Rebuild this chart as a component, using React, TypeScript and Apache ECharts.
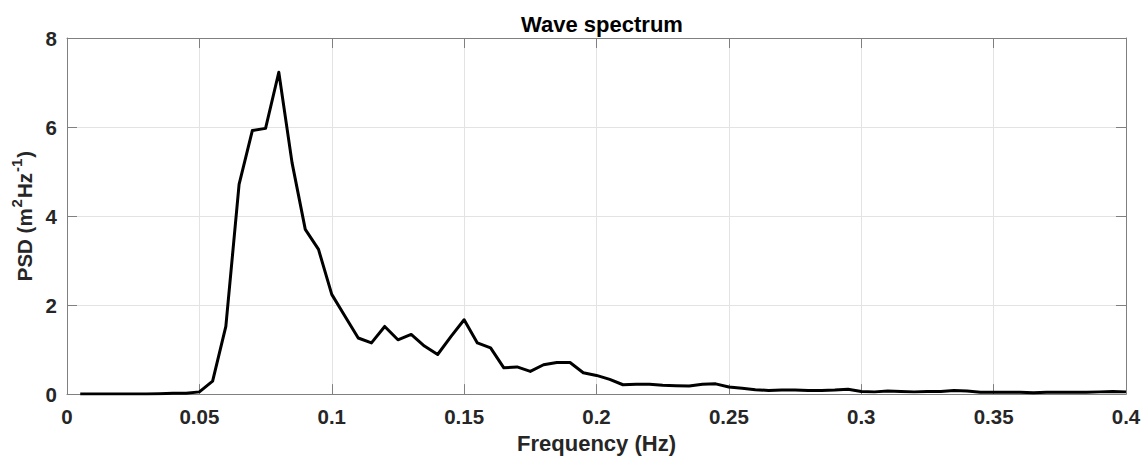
import React, { useEffect, useRef } from "react";
import * as echarts from "echarts";

const frequency = [
  0.005, 0.01, 0.015, 0.02, 0.025, 0.03, 0.035, 0.04, 0.045, 0.05,
  0.055, 0.06, 0.065, 0.07, 0.075, 0.08, 0.085, 0.09, 0.095, 0.1,
  0.105, 0.11, 0.115, 0.12, 0.125, 0.13, 0.135, 0.14, 0.145, 0.15,
  0.155, 0.16, 0.165, 0.17, 0.175, 0.18, 0.185, 0.19, 0.195, 0.2,
  0.205, 0.21, 0.215, 0.22, 0.225, 0.23, 0.235, 0.24, 0.245, 0.25,
  0.255, 0.26, 0.265, 0.27, 0.275, 0.28, 0.285, 0.29, 0.295, 0.3,
  0.305, 0.31, 0.315, 0.32, 0.325, 0.33, 0.335, 0.34, 0.345, 0.35,
  0.355, 0.36, 0.365, 0.37, 0.375, 0.38, 0.385, 0.39, 0.395, 0.4,
];

const psd = [
  0.0, 0.0, 0.0, 0.0, 0.0, 0.0, 0.01, 0.02, 0.02, 0.05,
  0.29, 1.52, 4.71, 5.92, 5.97, 7.23, 5.2, 3.7, 3.25, 2.24,
  1.75, 1.26, 1.15, 1.52, 1.22, 1.34, 1.08, 0.89, 1.29, 1.67,
  1.15, 1.04, 0.59, 0.61, 0.51, 0.66, 0.71, 0.71, 0.48, 0.42,
  0.33, 0.21, 0.22, 0.22, 0.2, 0.19, 0.18, 0.22, 0.23, 0.16,
  0.13, 0.1, 0.08, 0.09, 0.09, 0.08, 0.08, 0.09, 0.11, 0.06,
  0.05, 0.07, 0.06, 0.05, 0.06, 0.06, 0.08, 0.07, 0.04, 0.04,
  0.04, 0.04, 0.03, 0.04, 0.04, 0.04, 0.04, 0.05, 0.06, 0.05,
];

const FONT = "'Liberation Sans', Arial, Helvetica, sans-serif";
const TXT = "#262626";
const AXIS = "#808080";
const GRID = "#e3e3e3";

const fmt = (v: number) => String(parseFloat(v.toFixed(4)));

export default function App() {
  const ref = useRef<HTMLDivElement>(null);

  useEffect(() => {
    if (!ref.current) return;
    const chart = echarts.init(ref.current, undefined, { renderer: "svg" });
    const points = frequency.map((f, i) => [f, psd[i]]);
    const baseX = {
      type: "value" as const,
      min: 0,
      max: 0.4,
      interval: 0.05,
      axisLine: { show: true, onZero: false, lineStyle: { color: AXIS, width: 1 } },
      axisTick: { show: true, inside: true, length: 10, lineStyle: { color: AXIS } },
    };
    const baseY = {
      type: "value" as const,
      min: 0,
      max: 8,
      interval: 2,
      axisLine: { show: true, onZero: false, lineStyle: { color: AXIS, width: 1 } },
      axisTick: { show: true, inside: true, length: 10, lineStyle: { color: AXIS } },
    };
    chart.setOption({
      animation: false,
      backgroundColor: "#ffffff",
      title: {
        text: "Wave spectrum",
        left: 597,
        textAlign: "center",
        top: 8,
        textStyle: { fontFamily: FONT, fontWeight: "bold", fontSize: 22, color: "#000" },
      },
      grid: { left: 67, right: 20, top: 38, bottom: 64.5, containLabel: false },
      xAxis: [
        {
          ...baseX,
          position: "bottom",
          name: "Frequency (Hz)",
          nameLocation: "middle",
          nameGap: 28,
          nameTextStyle: { fontFamily: FONT, fontWeight: "bold", fontSize: 22, color: TXT },
          axisLabel: {
            margin: 12,
            fontFamily: FONT,
            fontWeight: "bold",
            fontSize: 20.5,
            color: TXT,
            formatter: (v: number) => fmt(v),
          },
          splitLine: { show: true, lineStyle: { color: GRID, width: 1 } },
        },
        {
          ...baseX,
          position: "top",
          axisLabel: { show: false },
          splitLine: { show: false },
        },
      ],
      yAxis: [
        {
          ...baseY,
          position: "left",
          name: "{a|PSD (m}{s|2}{a|Hz}{s|-1}{a|)}",
          nameLocation: "middle",
          nameRotate: 90,
          nameGap: 31,
          nameTextStyle: {
            rich: {
              a: {
                fontFamily: FONT,
                fontWeight: "bold",
                fontSize: 20.5,
                color: TXT,
                lineHeight: 26,
                verticalAlign: "bottom",
              },
              s: {
                fontFamily: FONT,
                fontWeight: "bold",
                fontSize: 15,
                color: TXT,
                lineHeight: 26,
                verticalAlign: "top",
                padding: [0, 1, 0, 1],
              },
            },
          },
          axisLabel: {
            margin: 10,
            fontFamily: FONT,
            fontWeight: "bold",
            fontSize: 20.5,
            color: TXT,
            formatter: (v: number) => fmt(v),
          },
          splitLine: { show: true, lineStyle: { color: GRID, width: 1 } },
        },
        {
          ...baseY,
          position: "right",
          axisLabel: { show: false },
          splitLine: { show: false },
        },
      ],
      series: [
        {
          type: "line",
          xAxisIndex: 0,
          yAxisIndex: 0,
          data: points,
          showSymbol: false,
          symbol: "none",
          lineStyle: { color: "#000000", width: 3, join: "round" },
          z: 5,
        },
      ],
    });
    return () => chart.dispose();
  }, []);

  return <div ref={ref} style={{ width: 1146, height: 459, position: "absolute", left: 0, top: 0 }} />;
}
